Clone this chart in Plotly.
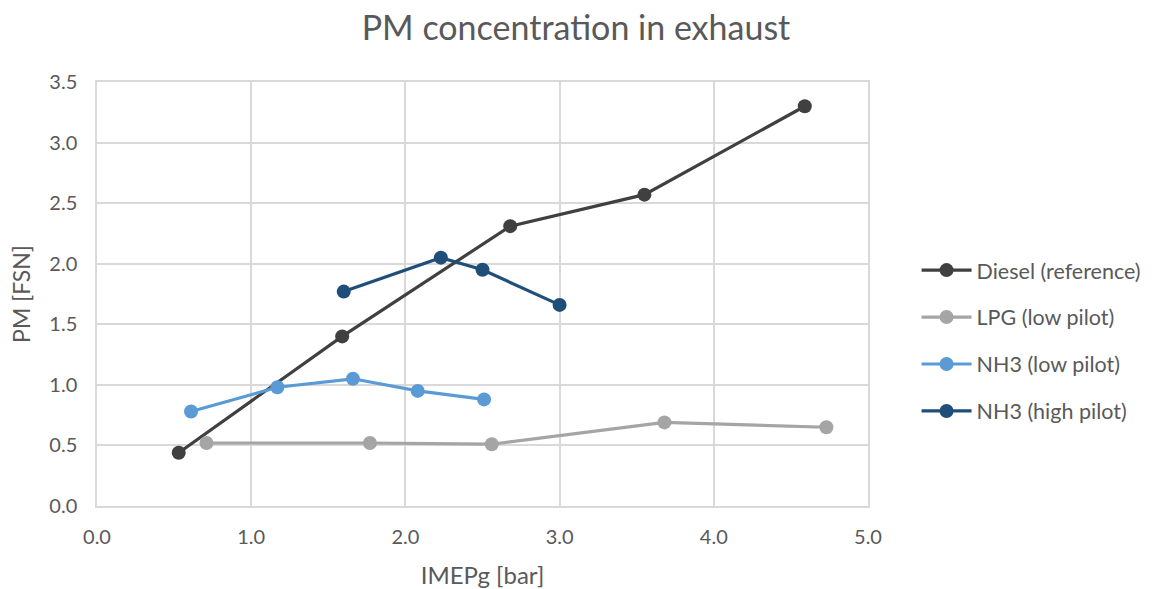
import plotly.graph_objects as go

diesel_x = [0.53, 1.59, 2.68, 3.55, 4.59]
diesel_y = [0.44, 1.40, 2.31, 2.57, 3.30]
lpg_x = [0.71, 1.77, 2.56, 3.68, 4.73]
lpg_y = [0.52, 0.52, 0.51, 0.69, 0.65]
nh3_low_x = [0.61, 1.17, 1.66, 2.08, 2.51]
nh3_low_y = [0.78, 0.98, 1.05, 0.95, 0.88]
nh3_high_x = [1.60, 2.23, 2.50, 3.00]
nh3_high_y = [1.77, 2.05, 1.95, 1.66]

series = [
    ("Diesel (reference)", diesel_x, diesel_y, "#404040"),
    ("LPG (low pilot)", lpg_x, lpg_y, "#A5A5A5"),
    ("NH3 (low pilot)", nh3_low_x, nh3_low_y, "#5B9BD5"),
    ("NH3 (high pilot)", nh3_high_x, nh3_high_y, "#1F4E79"),
]

fig = go.Figure()
for i, (name, xs, ys, col) in enumerate(series):
    fig.add_trace(go.Scatter(
        x=xs, y=ys, name=name, mode="lines+markers",
        line=dict(color=col, width=3.2),
        marker=dict(color=col, size=14),
        legendgroup=f"g{i}",
    ))

font_family = "Lato, Open Sans, sans-serif"
fig.update_layout(
    width=1152, height=589,
    paper_bgcolor="white", plot_bgcolor="white",
    margin=dict(l=97, r=284, t=82, b=83, autoexpand=False),
    title=dict(text="PM concentration in exhaust", x=0.5, xanchor="center",
               y=1 - 28 / 589, yanchor="middle",
               font=dict(family=font_family, size=34, color="#595959")),
    font=dict(family=font_family, color="#595959", size=20),
    legend=dict(x=1.063, y=0.39, xanchor="left", yanchor="middle",
                font=dict(size=21.5, color="#595959"), tracegroupgap=16,
                itemwidth=50),
    showlegend=True,
)
fig.update_xaxes(
    range=[0, 5], dtick=1, tickformat=".1f", automargin=False,
    showgrid=True, gridcolor="#D9D9D9", gridwidth=1.5,
    showline=True, linecolor="#D9D9D9", linewidth=1.5, mirror=True,
    zeroline=False, ticks="", ticklabelstandoff=12,
    title=dict(text="IMEPg [bar]", font=dict(size=24, color="#595959"), standoff=20),
    tickfont=dict(size=20, color="#595959"),
)
fig.update_yaxes(
    range=[0, 3.5], dtick=0.5, tickformat=".1f", automargin=False,
    showgrid=True, gridcolor="#D9D9D9", gridwidth=1.5,
    showline=True, linecolor="#D9D9D9", linewidth=1.5, mirror=True,
    zeroline=False, ticks="", ticklabelstandoff=14,
    title=dict(text="PM [FSN]", font=dict(size=23, color="#595959"), standoff=12),
    tickfont=dict(size=20, color="#595959"),
)
fig.write_html("out.html")
